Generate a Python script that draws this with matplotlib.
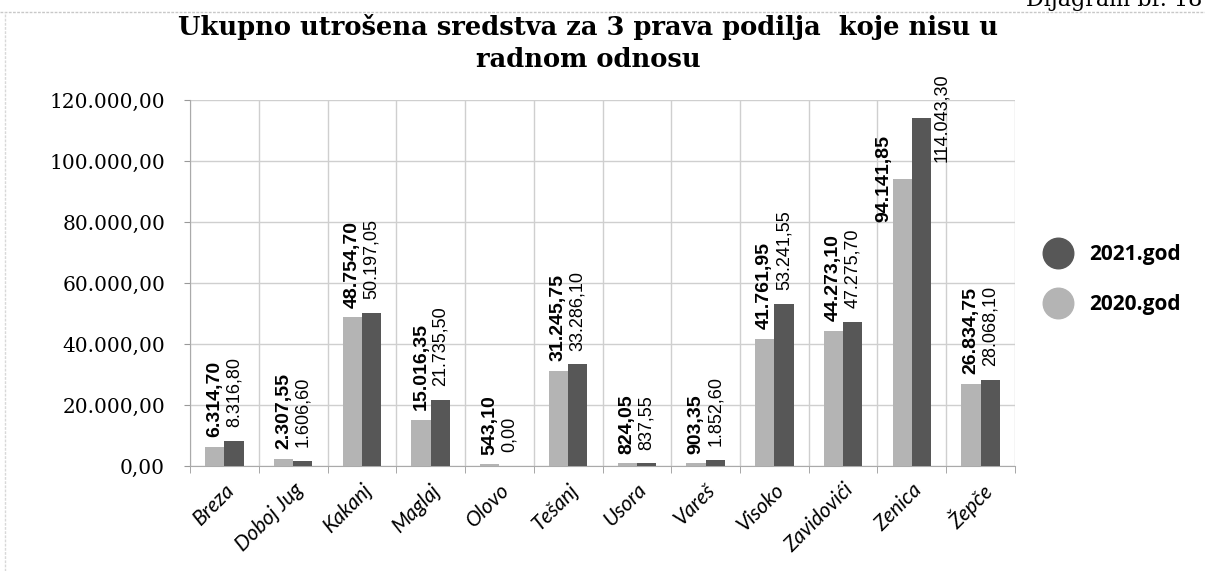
import numpy as np
import matplotlib
matplotlib.use("Agg")
import matplotlib.pyplot as plt
from matplotlib.lines import Line2D
from matplotlib.ticker import FuncFormatter

opstine = ["Breza", "Doboj Jug", "Kakanj", "Maglaj", "Olovo", "Tešanj", "Usora",
           "Vareš", "Visoko", "Zavidovići", "Zenica", "Žepče"]
god_2020 = [6314.70, 2307.55, 48754.70, 15016.35, 543.10, 31245.75, 824.05,
            903.35, 41761.95, 44273.10, 94141.85, 26834.75]
god_2021 = [8316.80, 1606.60, 50197.05, 21735.50, 0.00, 33286.10, 837.55,
            1852.60, 53241.55, 47275.70, 114043.30, 28068.10]


def bs_fmt(v):
    s = f"{v:,.2f}"
    return s.replace(",", "X").replace(".", ",").replace("X", ".")


c20 = "#b4b4b4"
c21 = "#575757"
lbl_font = "Liberation Sans"

fig = plt.figure(figsize=(12.05, 5.71), dpi=100)
ax = fig.add_axes([0.1577, 0.1839, 0.6846, 0.641])

x = np.arange(len(opstine))
w = 0.28
ax.bar(x - w / 2, god_2020, w, color=c20, zorder=3)
ax.bar(x + w / 2, god_2021, w, color=c21, zorder=3)

ax.set_xlim(-0.5, len(opstine) - 0.5)
ax.set_ylim(0, 120000)
ax.set_yticks(np.arange(0, 120001, 20000))
ax.yaxis.set_major_formatter(FuncFormatter(lambda v, p: bs_fmt(v)))
ax.set_xticks(x)
ax.set_xticklabels(opstine, rotation=45, ha="right", rotation_mode="anchor",
                   fontsize=15, style="italic", family="Lato")
ax.set_xticks(np.arange(-0.5, len(opstine)), minor=True)
ax.tick_params(axis="x", which="major", length=0, pad=10)
ax.tick_params(axis="x", which="minor", length=5, color="#999999")
ax.tick_params(axis="y", length=4, color="#999999", labelsize=14.5, pad=14)
for t in ax.get_yticklabels():
    t.set_family("DejaVu Serif")
ax.grid(axis="y", color="#cfcfcf", lw=1, zorder=0)
ax.grid(axis="x", which="minor", color="#cfcfcf", lw=1, zorder=0)
for s in ["top", "right"]:
    ax.spines[s].set_visible(False)
ax.spines["left"].set_color("#aaaaaa")
ax.spines["bottom"].set_color("#aaaaaa")

# value labels
for i in range(len(opstine)):
    v0, v1 = god_2020[i], god_2021[i]
    if opstine[i] == "Zenica":
        ax.text(i - w / 2 - 0.26, v0, bs_fmt(v0), rotation=90, ha="center", va="center",
                fontsize=14, fontweight="bold", family=lbl_font, zorder=4)
        ax.text(i + w / 2 + 0.3, v1, bs_fmt(v1), rotation=90, ha="center", va="center",
                fontsize=13, family=lbl_font, zorder=4)
        continue
    ax.annotate(bs_fmt(v0), (i - w / 2, v0), xytext=(0, 7), textcoords="offset points",
                rotation=90, ha="center", va="bottom", fontsize=14, fontweight="bold",
                family=lbl_font, zorder=4)
    ax.annotate(bs_fmt(v1), (i + w / 2, v1), xytext=(0, 10), textcoords="offset points",
                rotation=90, ha="center", va="bottom", fontsize=13, family=lbl_font, zorder=4)

fig.text(0.488, 0.975, "Ukupno utrošena sredstva za 3 prava podilja  koje nisu u\nradnom odnosu",
         ha="center", va="top", fontsize=18.5, fontweight="bold", family="DejaVu Serif",
         linespacing=1.35)

handles = [Line2D([], [], ls="", marker="o", ms=22, color=c21),
           Line2D([], [], ls="", marker="o", ms=22, color=c20)]
fig.legend(handles, ["2021.god", "2020.god"], loc="center left",
           bbox_to_anchor=(0.845, 0.51), frameon=False, labelspacing=1.4,
           handletextpad=0.5, prop={"family": "Open Sans", "weight": "bold", "size": 15})

# scan border and clipped caption
fig.add_artist(Line2D([0, 1], [0.979, 0.979], color="#c8c8c8", lw=1, ls=(0, (2, 1))))
fig.add_artist(Line2D([0.004, 0.004], [0, 0.979], color="#d8d8d8", lw=1, ls=(0, (2, 1))))
fig.text(0.998, 1.0, "Dijagram br. 18", ha="right", va="center", fontsize=16,
         family="DejaVu Serif")

fig.savefig("out.png", dpi=100)
